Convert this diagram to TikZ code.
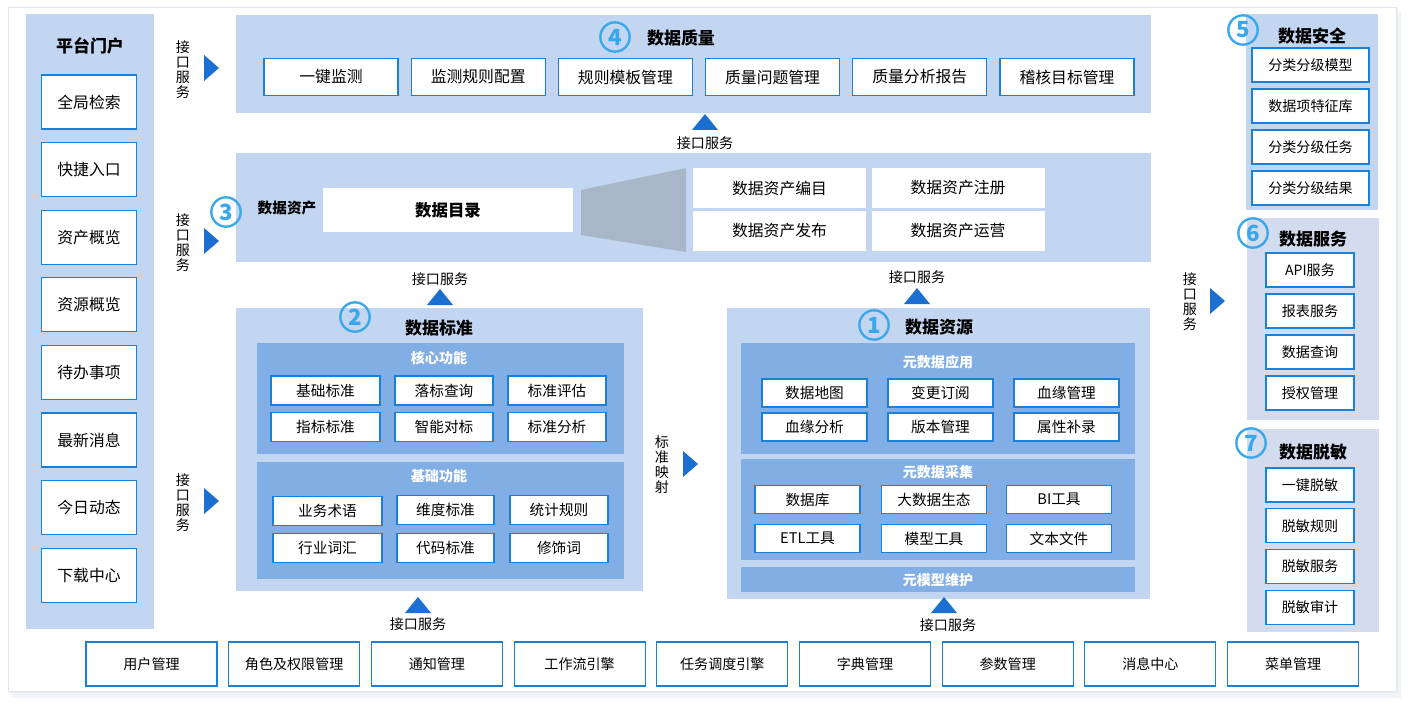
\documentclass[tikz,border=0pt]{standalone}
\usepackage{fontspec}
\setmainfont{Noto Sans CJK SC}
\usepackage{xcolor}
\definecolor{panel}{HTML}{C2D6F1}
\definecolor{panelgrey}{HTML}{D3DCEE}
\definecolor{inner}{HTML}{80AEE5}
\definecolor{border}{HTML}{1A80D8}
\definecolor{arrowblue}{HTML}{1B6FD0}
\definecolor{numblue}{HTML}{38A7EC}
\definecolor{funnel}{HTML}{A9B6C8}
\definecolor{card}{HTML}{E2E7EE}
\usetikzlibrary{
    positioning,
}

\begin{document}
\begin{tikzpicture}[%
    x=0.03cm,
    y=-0.03cm,
    every node/.style={inner sep=0, font=\fontsize{12}{14}\selectfont},
    item/.style={
        draw=border,
        line width=0.9pt,
        fill=white,
    },
    portal/.style={item, minimum width=2.85cm, minimum height=1.62cm,
        font=\fontsize{13.5}{15}\selectfont},
    qitem/.style={item, minimum width=4.02cm, minimum height=1.11cm,
        font=\fontsize{13.5}{15}\selectfont},
    aitem/.style={fill=white, minimum width=5.19cm, minimum height=1.2cm,
        font=\fontsize{13.5}{15}\selectfont},
    sitem/.style={item, minimum height=0.87cm, font=\fontsize{12.5}{14}\selectfont},
    ritem/.style={item, minimum width=3.15cm, minimum height=0.84cm,
        font=\fontsize{12.5}{14}\selectfont},
    secitem/.style={item, minimum width=3.51cm, minimum height=1.02cm},
    svcitem/.style={item, minimum width=2.64cm, minimum height=1.02cm},
    base/.style={item, minimum width=3.93cm, minimum height=1.32cm},
    title/.style={font=\bfseries\fontsize{14.5}{16}\selectfont},
    subtitle/.style={font=\bfseries\fontsize{12}{14}\selectfont, text=white},
    num/.style={
        circle,
        draw=numblue,
        line width=2pt,
        text=numblue,
        minimum size=0.88cm,
        font=\bfseries\fontsize{19}{19}\selectfont
    },
    vapi/.style={align=center, font=\fontsize{12}{12.8}\selectfont},
]

\useasboundingbox (0,0) rectangle (1413,710);

% card with shadow
\fill[card!50] (12,12) rectangle (1401,698);
\fill[card!80] (10,9) rectangle (1398,693);
\filldraw[fill=white, draw=card] (8,7) rectangle (1396,691);

% platform portal
\fill[panel] (26,14) rectangle (154,629);
\node[title] (portal) at (90,46) {平台门户};
\foreach \t [count=\i from 0] in {全局检索,快捷入口,资产概览,资源概览,待办事项,最新消息,今日动态,下载中心}
    \node[portal] (p\i) at (89,{102+67.6*\i}) {\t};

\node[vapi] (api1) at (183,70) {接\\口\\服\\务};
\node[vapi] (api2) at (183,243) {接\\口\\服\\务};
\node[vapi] (api3) at (183,503) {接\\口\\服\\务};

% data quality
\fill[panel] (236,15) rectangle (1151,113);
\node[num] (n4) at (615,37) {4};
\node[title] (quality) at (681,38) {数据质量};
\foreach \t [count=\i from 0] in {一键监测,监测规则配置,规则模板管理,质量问题管理,质量分析报告,稽核目标管理}
    \node[qitem] (q\i) at ({331+147.2*\i},77) {\t};
\node (api4) at (705,143) {接口服务};

% data assets
\fill[panel] (236,153) rectangle (1151,262);
\node[num] (n3) at (226,212) {3};
\node[font=\bfseries\fontsize{12.5}{14}\selectfont] (asset) at (287,208) {数据资产};
\node[fill=white, minimum width=7.5cm, minimum height=1.32cm,
    font=\bfseries\fontsize{14}{16}\selectfont] (catalog) at (448,210) {数据目录};
\fill[funnel] (581,190) -- (686,168) -- (686,252) -- (581,235) -- cycle;
\node[aitem] (a1) at (779.5,188) {数据资产编目};
\node[aitem] (a2) at (958,188) {数据资产注册};
\node[aitem] (a3) at (779.5,231) {数据资产发布};
\node[aitem] (a4) at (958,231) {数据资产运营};
\node (api5) at (440,279) {接口服务};
\node (api6) at (917,277) {接口服务};

% data standard
\fill[panel] (236,308) rectangle (643,591);
\node[num] (n2) at (355,317) {2};
\node[title] (standard) at (439,328) {数据标准};
\fill[inner] (257,343) rectangle (624,454);
\node[subtitle] (core) at (439,358) {核心功能};
\foreach \x/\y/\w/\t [count=\i] in {
    325.5/390.5/3.27/基础标准, 444/390.5/2.94/落标查询, 557/390.5/2.94/标准评估,
    325.5/427/3.27/指标标准, 444/427/2.94/智能对标, 557/427/2.94/标准分析}
    \node[sitem, minimum width=\w cm] (c\i) at (\x,\y) {\t};
\fill[inner] (257,462) rectangle (624,579);
\node[subtitle] (basic) at (439,476) {基础功能};
\foreach \x/\y/\w/\t [count=\i] in {
    327.5/511/3.27/业务术语, 445.5/510/2.91/维度标准, 559/510/2.94/统计规则,
    327.5/548/3.27/行业词汇, 445.5/548/2.91/代码标准, 559/548/2.94/修饰词}
    \node[sitem, minimum width=\w cm] (b\i) at (\x,\y) {\t};
\node (api7) at (418,624) {接口服务};
\node[vapi] (map) at (662,465) {标\\准\\映\\射};

% data resources
\fill[panel] (727,308) rectangle (1150,599);
\node[num] (n1) at (874,325) {1};
\node[title] (resource) at (939,327) {数据资源};
\fill[inner] (741,343) rectangle (1135,454);
\node[subtitle] (metaapp) at (938,362) {元数据应用};
\foreach \x/\y/\t [count=\i] in {
    814.5/393/数据地图, 940.5/393/变更订阅, 1066.5/393/血缘管理,
    814.5/427/血缘分析, 940.5/427/版本管理, 1066.5/427/属性补录}
    \node[ritem] (m\i) at (\x,\y) {\t};
\fill[inner] (741,459) rectangle (1135,560);
\node[subtitle] (metacol) at (938,472) {元数据采集};
\foreach \x/\y/\t [count=\i] in {
    807.5/499.5/数据库, 934/499.5/大数据生态, 1059/499.5/BI工具,
    807.5/538.5/ETL工具, 934/538.5/模型工具, 1059/538.5/文本文件}
    \node[ritem] (k\i) at (\x,\y) {\t};
\fill[inner] (741,567) rectangle (1135,592);
\node[subtitle] (metamodel) at (938,580) {元模型维护};
\node (api8) at (948,625) {接口服务};

% right column
\node[vapi] (api9) at (1190,302) {接\\口\\服\\务};

\fill[panel] (1246,14) rectangle (1378,210);
\node[num] (n5) at (1243,30) {5};
\node[title] (security) at (1312,36) {数据安全};
\foreach \t [count=\i from 0] in {分类分级模型,数据项特征库,分类分级任务,分类分级结果}
    \node[secitem] (s\i) at (1310.5,{65+41*\i}) {\t};

\fill[panelgrey] (1247,218) rectangle (1379,420);
\node[num] (n6) at (1253,233) {6};
\node[title] (service) at (1313,239) {数据服务};
\foreach \t [count=\i from 0] in {API服务,报表服务,数据查询,授权管理}
    \node[svcitem] (v\i) at (1310,{270+41*\i}) {\t};

\fill[panelgrey] (1247,429) rectangle (1379,632);
\node[num] (n7) at (1251,443) {7};
\node[title] (mask) at (1313,452) {数据脱敏};
\foreach \t [count=\i from 0] in {一键脱敏,脱敏规则,脱敏服务,脱敏审计}
    \node[svcitem] (d\i) at (1310,{485+40.8*\i}) {\t};

% base services
\foreach \t [count=\i from 0] in {用户管理,角色及权限管理,通知管理,工作流引擎,任务调度引擎,字典管理,参数管理,消息中心,菜单管理}
    \node[base] (u\i) at ({151.5+142.7*\i},664) {\t};

% triangles
\foreach \x/\y in {211/68, 211/241, 211/501, 690/464, 1217/301}
    \fill[arrowblue] (\x,\y) +(-7,-13) -- +(8,0) -- +(-7,13) -- cycle;
\foreach \x/\y in {705/122, 440/297, 917/296, 418/605, 944/605}
    \fill[arrowblue] (\x,\y) +(-13,8) -- +(0,-8) -- +(13,8) -- cycle;

\end{tikzpicture}
\end{document}
